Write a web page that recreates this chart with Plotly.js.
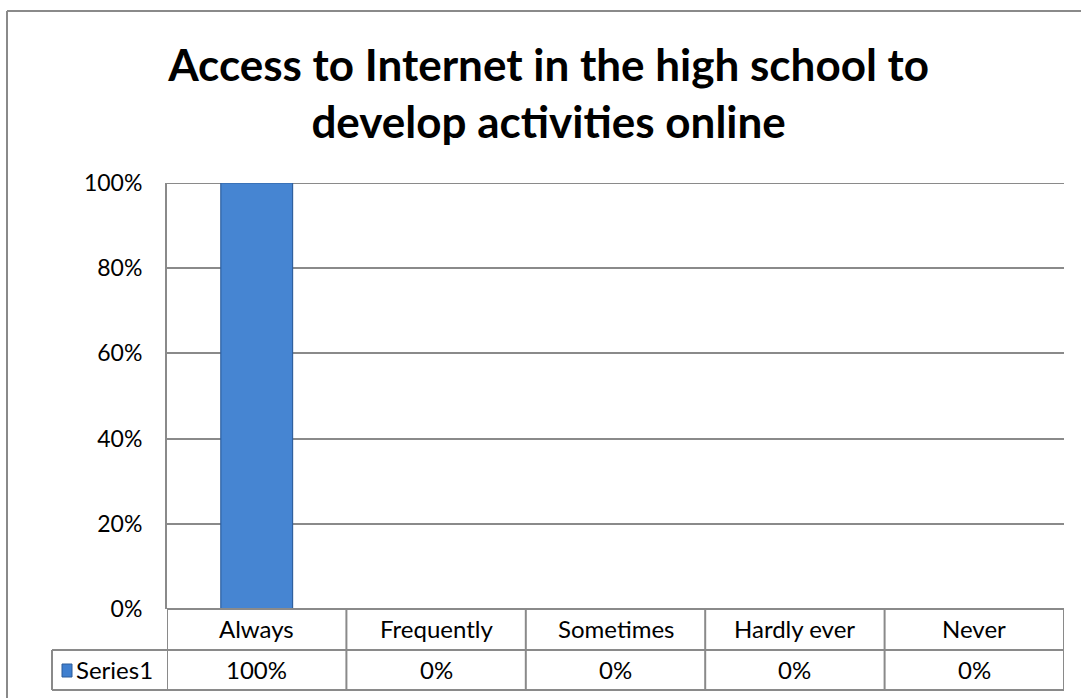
<!DOCTYPE html>
<html>
<head>
<meta charset="utf-8">
<script src="https://cdn.plot.ly/plotly-3.0.1.min.js"></script>
<style>
  html, body { margin: 0; padding: 0; background: #fff; }
  #chart { width: 1081px; height: 698px; }
</style>
</head>
<body>
<div id="chart"></div>
<script>
// ---- data ----
const categories = ["Always", "Frequently", "Sometimes", "Hardly ever", "Never"];
const series1 = [1.00, 0.00, 0.00, 0.00, 0.00];
const seriesName = "Series1";
const yTickVals = [0, 0.2, 0.4, 0.6, 0.8, 1.0];
const yTickText = ["0%", "20%", "40%", "60%", "80%", "100%"];
const chartTitle = "Access to Internet in the high school to<br>develop activities online";

// ---- layout helpers (pixel geometry) ----
const W = 1081, H = 698;
const PL = 167, PR = 1064, PT = 183, PB = 609;
const pw = PR - PL, ph = PB - PT;
const px = v => (v - PL) / pw;      // pixel x -> paper
const py = v => (PB - v) / ph;      // pixel y -> paper
const lineCol = "#8a8a8a";
const FONT = "Lato, 'Open Sans', sans-serif";
const TXT = 24;

const shapes = [];
const annotations = [];

// outer chart frame (left + top visible)
shapes.push({type: "line", xref: "paper", yref: "paper", x0: px(7), x1: px(7), y0: py(11), y1: py(720), line: {color: lineCol, width: 2}});
shapes.push({type: "line", xref: "paper", yref: "paper", x0: px(7), x1: px(1090), y0: py(11), y1: py(11), line: {color: lineCol, width: 2}});

// top gridline (at the range edge)
shapes.push({type: "line", xref: "paper", yref: "y", x0: 0, x1: 1, y0: yTickVals[yTickVals.length - 1], y1: yTickVals[yTickVals.length - 1],
  line: {color: lineCol, width: 2}, layer: "below"});

// data table grid
const rowMid = 650, rowBot = 690;
shapes.push({type: "line", xref: "paper", yref: "paper", x0: 0, x1: 1, y0: 0, y1: 0, line: {color: lineCol, width: 2}});
shapes.push({type: "line", xref: "paper", yref: "paper", x0: px(52), x1: 1, y0: py(rowMid), y1: py(rowMid), line: {color: lineCol, width: 2}});
shapes.push({type: "line", xref: "paper", yref: "paper", x0: px(52), x1: 1, y0: py(rowBot), y1: py(rowBot), line: {color: lineCol, width: 2}});
shapes.push({type: "line", xref: "paper", yref: "paper", x0: px(52), x1: px(52), y0: py(rowMid), y1: py(rowBot), line: {color: lineCol, width: 2}});
for (let i = 0; i <= categories.length; i++) {
  shapes.push({type: "line", xref: "x", yref: "paper", x0: i - 0.5, x1: i - 0.5, y0: 0, y1: py(rowBot), line: {color: lineCol, width: 2}});
}
// legend key
shapes.push({type: "rect", xref: "paper", yref: "paper", x0: px(62), x1: px(72), y0: py(664), y1: py(677),
  fillcolor: "#3f7fcf", line: {color: "#2c5d99", width: 1}});

// table texts
categories.forEach((c, i) => {
  annotations.push({xref: "x", yref: "paper", x: i, y: py(628), text: c, showarrow: false,
    xanchor: "center", yanchor: "middle", font: {family: FONT, size: TXT, color: "#000"}});
  annotations.push({xref: "x", yref: "paper", x: i, y: py(669), text: Math.round(series1[i] * 100) + "%", showarrow: false,
    xanchor: "center", yanchor: "middle", font: {family: FONT, size: TXT, color: "#000"}});
});
annotations.push({xref: "paper", yref: "paper", x: px(74), y: py(669), text: seriesName, showarrow: false,
  xanchor: "left", yanchor: "middle", font: {family: FONT, size: TXT, color: "#000"}});

const trace = {
  type: "bar",
  x: categories,
  y: series1,
  name: seriesName,
  marker: {color: "#4685d2", line: {color: "#2f609e", width: 1.2}},
  hoverinfo: "x+y"
};

const layout = {
  width: W, height: H,
  paper_bgcolor: "#fff", plot_bgcolor: "#fff",
  margin: {l: PL, r: W - PR, t: PT, b: H - PB, pad: 0},
  showlegend: false,
  bargap: 0.6,
  title: {
    text: chartTitle,
    font: {family: FONT, size: 44, color: "#000", weight: "bold"},
    x: 0.5075, xref: "container", xanchor: "center",
    y: 1 - 81 / H, yref: "container", yanchor: "top"
  },
  xaxis: {
    type: "category",
    showticklabels: false,
    showgrid: false, zeroline: false, showline: false, ticks: "",
    range: [-0.5, categories.length - 0.5], fixedrange: true
  },
  yaxis: {
    range: [0, 1], tickvals: yTickVals, ticktext: yTickText,
    showgrid: true, gridcolor: lineCol, gridwidth: 2,
    showline: true, linecolor: lineCol, linewidth: 2,
    zeroline: false, ticks: "", ticklabelstandoff: 18,
    tickfont: {family: FONT, size: 23, color: "#000"}, fixedrange: true
  },
  shapes: shapes,
  annotations: annotations
};

Plotly.newPlot("chart", [trace], layout, {displayModeBar: false, staticPlot: true});
</script>
</body>
</html>
